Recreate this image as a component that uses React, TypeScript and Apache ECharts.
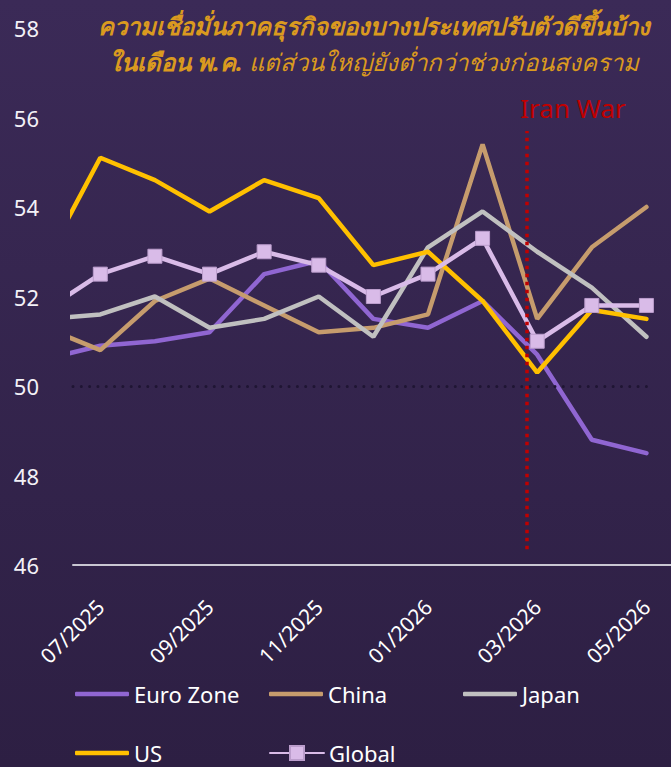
import React, { useEffect, useRef } from "react";
import * as echarts from "echarts";

const months = ["06/2025", "07/2025", "08/2025", "09/2025", "10/2025", "11/2025", "12/2025", "01/2026", "02/2026", "03/2026", "04/2026", "05/2026"];
const labelIdx = [1, 3, 5, 7, 9, 11];

const euroZone = [50.6, 50.9, 51.0, 51.2, 52.5, 52.8, 51.5, 51.3, 51.9, 50.7, 48.8, 48.5];
const china = [51.3, 50.8, 51.9, 52.4, 51.8, 51.2, 51.3, 51.6, 55.4, 51.5, 53.1, 54.0];
const japan = [51.5, 51.6, 52.0, 51.3, 51.5, 52.0, 51.1, 53.1, 53.9, 53.0, 52.2, 51.1];
const us = [52.8, 55.1, 54.6, 53.9, 54.6, 54.2, 52.7, 53.0, 51.9, 50.3, 51.7, 51.5];
const globalPmi = [51.7, 52.5, 52.9, 52.5, 53.0, 52.7, 52.0, 52.5, 53.3, 51.0, 51.8, 51.8];

const warX = 8.8; // late 02/2026
const warSpan = [46.35, 55.7];
const neutralLevel = 50;

const titleLine1 = "ความเชื่อมั่นภาคธุรกิจของบางประเทศปรับตัวดีขึ้นบ้าง";
const titleLine2a = "ในเดือน พ.ค.";
const titleLine2b = " แต่ส่วนใหญ่ยังต่ำกว่าช่วงก่อนสงคราม";

const FONT = "'Noto Sans', 'Open Sans', sans-serif";

export default function App() {
  const ref = useRef<HTMLDivElement>(null);

  useEffect(() => {
    document.body.style.margin = "0";
    if (!ref.current) return;
    const chart = echarts.init(ref.current, undefined, { renderer: "svg" });

    const pairs = (arr: number[]) => arr.map((v, i) => [i, v]);
    const lineSeries = (name: string, data: number[], color: string, extra: any = {}) => ({
      name,
      type: "line",
      data: pairs(data),
      symbol: "none",
      color,
      lineStyle: { color, width: 4.5, cap: "round" },
      clip: true,
      ...extra,
    });

    const legendText = { color: "#ffffff", fontSize: 22, fontFamily: FONT };
    const lineLegend = (name: string, left: number, top: number) => ({
      left,
      top,
      itemWidth: 54,
      itemHeight: 4.5,
      icon: "roundRect",
      textStyle: legendText,
      data: [name],
    });

    chart.setOption({
      animation: false,
      backgroundColor: new echarts.graphic.LinearGradient(0, 0, 0, 1, [
        { offset: 0, color: "#3b2a57" },
        { offset: 1, color: "#2d1f43" },
      ]),
      title: {
        left: 369,
        top: 2,
        textAlign: "center",
        text: `{b|${titleLine1}}\n{b|${titleLine2a}}{n|${titleLine2b}}`,
        textStyle: {
          rich: {
            b: { fontSize: 24, fontWeight: "bold", fontStyle: "italic", color: "#DA9A1F", lineHeight: 36, fontFamily: FONT },
            n: { fontSize: 24, fontWeight: "normal", fontStyle: "italic", color: "#DA9A1F", lineHeight: 36, fontFamily: FONT },
          },
        },
      },
      grid: { left: 73, right: 0, top: 28, bottom: 202, containLabel: false },
      xAxis: {
        type: "value",
        min: 0.5,
        max: 11.45,
        axisLine: { show: true, onZero: false, lineStyle: { color: "#c9c7d2", width: 2 } },
        axisTick: { show: false },
        splitLine: { show: false },
        axisLabel: {
          customValues: labelIdx,
          formatter: (v: number) => months[Math.round(v)] ?? "",
          rotate: 45,
          margin: 38,
          color: "#ffffff",
          fontSize: 21,
          fontFamily: FONT,
        },
      },
      yAxis: {
        type: "value",
        min: 46,
        max: 58,
        interval: 2,
        axisLine: { show: false },
        axisTick: { show: false },
        splitLine: { show: false },
        axisLabel: { color: "#f3f1f7", fontSize: 22, margin: 34, fontFamily: FONT },
      },
      legend: [
        lineLegend("Euro Zone", 70, 678),
        lineLegend("China", 264, 678),
        lineLegend("Japan", 458, 678),
        lineLegend("US", 70, 737),
        {
          left: 264,
          top: 737,
          itemWidth: 54,
          itemHeight: 17.5,
          textStyle: legendText,
          data: ["Global"],
        },
      ],
      series: [
        lineSeries("Euro Zone", euroZone, "#9066D2", {
          markLine: {
            silent: true,
            symbol: "none",
            label: { show: false },
            lineStyle: { color: "#1f1533", width: 3, type: [0.01, 8.3], cap: "round" },
            data: [[{ coord: [0.5, neutralLevel] }, { coord: [11, neutralLevel] }]],
          },
        }),
        lineSeries("China", china, "#C69C6D"),
        lineSeries("Japan", japan, "#C0C0C0"),
        lineSeries("US", us, "#FFC000"),
        lineSeries("Global", globalPmi, "#D9BBE8", {
          symbol: "rect",
          symbolSize: 14,
          showSymbol: true,
          itemStyle: { color: "#D9BBE8", borderColor: "#bb9dcc", borderWidth: 1 },
          markLine: {
            silent: true,
            symbol: "none",
            lineStyle: { color: "#C00000", width: 3.5, type: [3.5, 4.5] },
            label: {
              show: true,
              position: "end",
              formatter: "Iran War",
              color: "#C00000",
              fontSize: 26,
              fontFamily: FONT,
              align: "left",
              offset: [-6, 0],
              distance: 10,
            },
            data: [[{ coord: [warX, warSpan[0]] }, { coord: [warX, warSpan[1]] }]],
          },
        }),
      ],
    });

    return () => chart.dispose();
  }, []);

  return <div ref={ref} style={{ width: 671, height: 767 }} />;
}
